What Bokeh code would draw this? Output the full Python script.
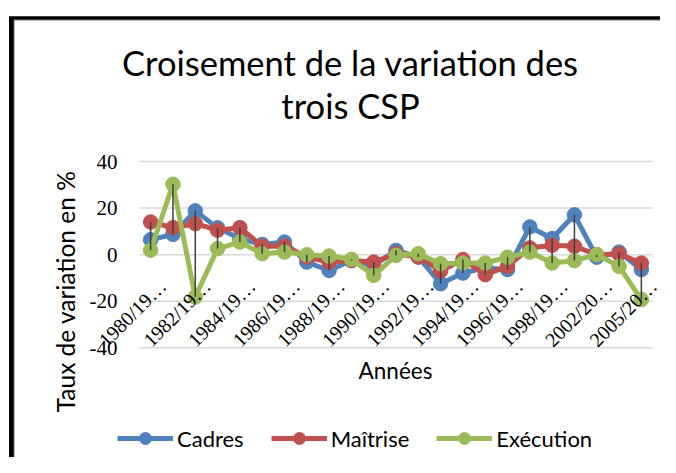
import math
import numpy as np
from bokeh.plotting import figure
from bokeh.models import (ColumnDataSource, Label, LabelSet, Legend, LegendItem,
                          Range1d)
from bokeh.embed import file_html
from bokeh.resources import INLINE

# ---------------- data ----------------
categories = ["1980/1981", "1981/1982", "1982/1983", "1983/1984", "1984/1985",
              "1985/1986", "1986/1987", "1987/1988", "1988/1989", "1989/1990",
              "1990/1991", "1991/1992", "1992/1993", "1993/1994", "1994/1995",
              "1995/1996", "1996/1997", "1997/1998", "1998/1999", "2000/2001",
              "2002/2003", "2004/2005", "2005/2006"]
cadres = [6.4, 8.7, 18.8, 11.5, 6.9, 4.4, 5.4, -3.2, -6.8, -2.5, -4.6, 1.8,
          -1.0, -12.5, -7.9, -5.7, -6.4, 11.9, 6.9, 17.1, -1.1, 1.1, -6.4]
maitrise = [14.0, 11.6, 13.3, 10.5, 11.6, 3.6, 3.7, -1.0, -3.2, -2.5, -3.2, 0.4,
            -1.0, -7.0, -2.1, -8.6, -5.0, 2.9, 4.0, 3.6, 0.0, 0.3, -3.6]
execution = [1.9, 30.2, -18.2, 2.6, 5.4, 0.4, 1.1, 0.0, -0.6, -2.0, -8.9, -0.3,
             0.4, -3.9, -3.6, -3.6, -1.1, 1.1, -3.6, -2.6, 0.0, -5.0, -19.3]
series_names = ["Cadres", "Maîtrise", "Exécution"]
y_ticks = [-40, -20, 0, 20, 40]
title_lines = ["Croisement de la variation des", "trois CSP"]
x_title = "Années"
y_title = "Taux de variation en %"

# ---------------- layout / style ----------------
FONT = "Lato"
colors = ["#4F81BD", "#C0504D", "#9BBB59"]
W, H = 660, 457
PL, PR, PT, PB = 139.0, 652.0, 161.0, 347.3      # plot area in canvas pixels
n = len(categories)
ymin, ymax = min(y_ticks), max(y_ticks)
ux = (PR - PL) / n
uy = (PB - PT) / (ymax - ymin)
x_start = -0.5 - PL / ux
x_end = x_start + W / ux
y_end = ymax + PT / uy
y_start = y_end - H / uy

def sx(px):
    return px

def sy(py):
    return H - py

def dx(px):          # canvas pixel -> data x (decoration only)
    return x_start + px / ux

def dy(py):          # canvas pixel -> data y (decoration only)
    return y_end - py / uy

p = figure(width=W, height=H, x_range=Range1d(x_start, x_end),
           y_range=Range1d(y_start, y_end), x_axis_location=None,
           y_axis_location=None, min_border=0, output_backend="svg",
           toolbar_location=None)
p.outline_line_color = None
p.background_fill_color = "white"
p.border_fill_color = "white"
p.grid.visible = False

idx = list(range(n))

# horizontal gridlines (value axis)
p.segment(x0=[-0.5] * len(y_ticks), x1=[n - 0.5] * len(y_ticks), y0=y_ticks,
          y1=y_ticks, line_color="#D9D9D9", line_width=1.5)

# value-axis tick labels
ysrc = ColumnDataSource(dict(x=[-0.5] * len(y_ticks), y=y_ticks,
                             t=[str(v) for v in y_ticks]))
p.add_layout(LabelSet(x="x", y="y", text="t", source=ysrc, x_offset=-22,
                      text_align="right", text_baseline="middle", text_font=FONT,
                      text_font_size="21px", text_color="black", level="glyph"))

# category labels at the zero line (every other one, truncated as in the source)
tick_idx = idx[::2]
tick_labels = [categories[i][:7] + "…" for i in tick_idx]
lab_src = ColumnDataSource(dict(x=tick_idx, y=[0] * len(tick_idx), t=tick_labels))
p.add_layout(LabelSet(x="x", y="y", text="t", source=lab_src, angle=math.pi / 4,
                      text_align="right", text_baseline="middle",
                      x_offset=12, y_offset=-28, text_font=FONT,
                      text_font_size="20px", text_color="black", level="glyph"))

items = []
for name, vals, col in zip(series_names, [cadres, maitrise, execution], colors):
    src = ColumnDataSource(dict(x=idx, y=vals))
    ln = p.line("x", "y", source=src, line_color=col, line_width=5)
    sc = p.scatter("x", "y", source=src, size=14.5, fill_color=col, line_color=col)
    items.append(LegendItem(label=name, renderers=[ln, sc]))

# high-low lines
arr = np.vstack([cadres, maitrise, execution])
p.segment(x0=idx, y0=arr.min(axis=0), x1=idx, y1=arr.max(axis=0),
          line_color="#404040", line_width=1.5)

legend = Legend(items=items, location=(sx(117), sy(453)), orientation="horizontal",
                padding=0, margin=0, spacing=27, glyph_width=56, glyph_height=30,
                label_standoff=4, label_text_font=FONT, label_text_font_size="22px",
                label_text_color="black", border_line_alpha=0,
                background_fill_alpha=0)
p.add_layout(legend)

# titles
for txt, yy in zip(title_lines, [62, 105]):
    p.add_layout(Label(x=sx(350), y=sy(yy), x_units="screen", y_units="screen",
                       text=txt, text_align="center", text_baseline="middle",
                       text_font=FONT, text_font_size="34.5px", text_color="black"))
p.add_layout(Label(x=sx(395), y=sy(370), x_units="screen", y_units="screen",
                   text=x_title, text_align="center", text_baseline="middle",
                   text_font=FONT, text_font_size="22.5px", text_color="black"))
p.add_layout(Label(x=sx(65), y=sy(291), x_units="screen", y_units="screen",
                   text=y_title, angle=math.pi / 2, text_align="center",
                   text_baseline="middle", text_font=FONT, text_font_size="24.5px",
                   text_color="black"))

# chart border: L-shaped decoration (the rest of the frame lies outside the view)
def ell(x_out, x_in, y_out, y_in, color):
    xs = [x_out, x_out, W + 20, W + 20, x_in, x_in]
    ys = [H + 20, y_out, y_out, y_in, y_in, H + 20]
    p.patch(x=[dx(v) for v in xs], y=[dy(v) for v in ys], fill_color=color,
            fill_alpha=1, line_alpha=0)

ell(13.3, 14.3, 19.2, 20.2, "#A6A6A6")
ell(8.5, 13.3, 15.7, 19.2, "black")

open("out.html", "w").write(file_html(p, INLINE))
